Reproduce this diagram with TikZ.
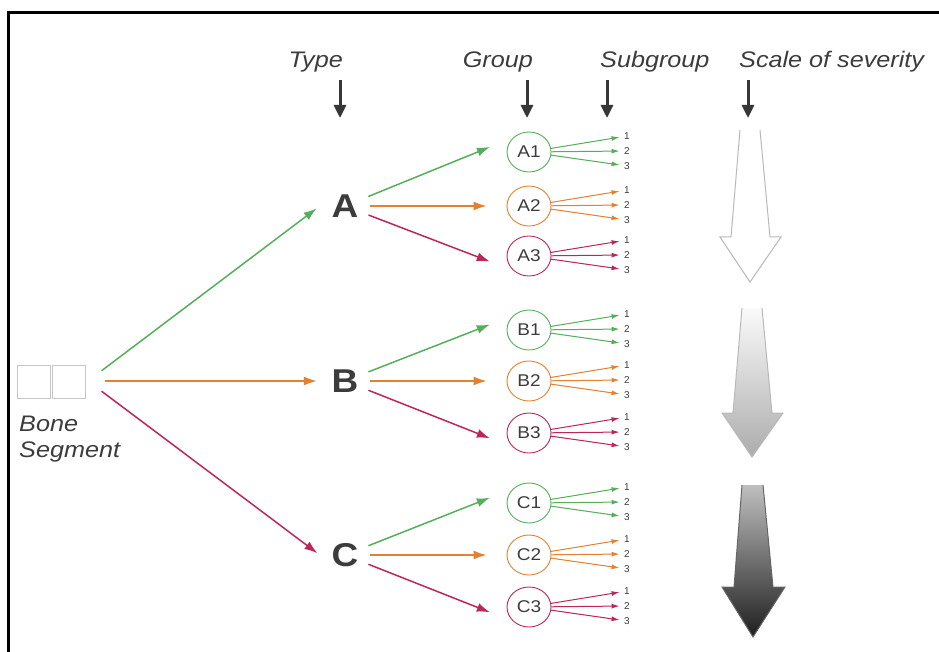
\documentclass[tikz,border=0pt]{standalone}
\usepackage{fontspec}
\setmainfont{Liberation Sans}
\newfontfamily\labfont[FakeStretch=1.12]{Liberation Sans}
\usetikzlibrary{arrows.meta,shapes.geometric}
\definecolor{gr}{RGB}{85,175,90}
\definecolor{og}{RGB}{228,128,48}
\definecolor{rd}{RGB}{188,38,88}
\definecolor{txtgray}{RGB}{60,60,60}
\definecolor{hdrgray}{RGB}{55,55,55}
\begin{document}
\begin{tikzpicture}[x=1pt,y=-1pt,
  hdrtxt/.style={font=\labfont\itshape\fontsize{22.5}{26}\selectfont, text=txtgray, inner sep=0pt},
  hdrarrow/.style={line width=3pt, draw=hdrgray, -{Triangle[width=12pt,length=13pt]}},
  typeltr/.style={circle, minimum size=50pt, inner sep=0pt, font=\labfont\bfseries\fontsize{33}{36}\selectfont, text=txtgray},
  grp/.style={ellipse, draw, minimum width=44pt, minimum height=40pt, inner sep=0pt, line width=0.9pt, font=\labfont\fontsize{17}{20}\selectfont, text=txtgray},
  digit/.style={font=\fontsize{10}{12}\selectfont, text=txtgray, inner sep=1.5pt},
  mainarrow/.style={line width=1.5pt, -{Latex[length=13pt,width=9pt]}},
  fanarrow/.style={line width=1pt, -{Latex[length=8pt,width=5pt]}},
  bonebox/.style={draw=gray!45, line width=0.8pt, minimum size=33pt, inner sep=0pt},
  bonetxt/.style={font=\labfont\itshape\fontsize{22.5}{26}\selectfont, text=txtgray, inner sep=0pt, anchor=west},
  sevarrow/.style={draw=gray!55, line width=1pt, line join=miter}
]
\useasboundingbox (0,0) rectangle (939,652);
% frame
\draw[line width=3pt] (8,652) -- (8,13) -- (939,13);

% headers
\node[hdrtxt, anchor=east] (typelbl) at (343,62) {Type};
\node[hdrtxt, anchor=east] (grouplbl) at (533,62) {Group};
\node[hdrtxt, anchor=west] (sublbl) at (600,62) {Subgroup};
\node[hdrtxt, anchor=west] (scalelbl) at (739,62) {Scale of severity};
\coordinate (typetop) at (340,80);   \coordinate (typebot) at (340,118);
\coordinate (grouptop) at (527,80);  \coordinate (groupbot) at (527,118);
\coordinate (subtop) at (607,80);    \coordinate (subbot) at (607,118);
\coordinate (scaletop) at (748,80);  \coordinate (scalebot) at (748,118);
\draw[hdrarrow] (typetop) -- (typebot);
\draw[hdrarrow] (grouptop) -- (groupbot);
\draw[hdrarrow] (subtop) -- (subbot);
\draw[hdrarrow] (scaletop) -- (scalebot);

% bone segment
\node[bonebox] (box1) at (33.5,381.5) {};
\node[bonebox] (box2) at (68.5,381.5) {};
\node[bonetxt] (bone) at (19,424) {Bone};
\node[bonetxt] (segment) at (19,452) {Segment};
\coordinate (src) at (88,381);

% types, groups, subgroups
\foreach \T/\ty/\ya/\yb/\yc in {A/206/152/206/256, B/381/330/381/433, C/555/503/555/607} {
  \node[typeltr] (\T) at (345,\ty) {\T};
  \node[grp, draw=gr] (\T1) at (529,\ya) {\T1};
  \node[grp, draw=og] (\T2) at (529,\yb) {\T2};
  \node[grp, draw=rd] (\T3) at (529,\yc) {\T3};
  \draw[mainarrow, gr, shorten >=25pt] (\T) -- (\T1.north west);
  \draw[mainarrow, og, shorten >=20pt] (\T) -- (\T2);
  \draw[mainarrow, rd, shorten >=25pt] (\T) -- (\T3.south west);
  \foreach \g/\gy/\c in {1/\ya/gr, 2/\yb/og, 3/\yc/rd} {
    \foreach \k/\dy in {1/-16, 2/-1, 3/14} {
      \node[digit] (\T\g-\k) at (627,{\gy+(\dy)}) {\k};
      \draw[fanarrow, \c, shorten >=3pt] (\T\g) -- (\T\g-\k);
    }
  }
}

% bone to types
\draw[mainarrow, gr, shorten <=17pt, shorten >=4pt] (src) -- (A.west);
\draw[mainarrow, og, shorten <=17pt, shorten >=3pt] (src) -- (B.west);
\draw[mainarrow, rd, shorten <=17pt, shorten >=3pt] (src) -- (C.west);

% scale of severity arrows
\path[fill=white] (740,130) -- (731,237) -- (720,237) -- (750,282) -- (781,237) -- (770,237) -- (760,130) -- cycle;
\draw[sevarrow] (740,130) -- (731,237) -- (720,237) -- (750,282) -- (781,237) -- (770,237) -- (760,130);
\shade[top color=gray!4, bottom color=gray!65] (742,308) -- (733,413) -- (722,413) -- (752,457) -- (783,413) -- (772,413) -- (762,308) -- cycle;
\draw[sevarrow] (742,308) -- (733,413) -- (722,413) -- (752,457) -- (783,413) -- (772,413) -- (762,308);
\shade[top color=gray!50, bottom color=black!88] (742,485) -- (734,587) -- (722,587) -- (753,637) -- (785,587) -- (773,587) -- (763,485) -- cycle;
\draw[sevarrow, draw=gray!80!black] (742,485) -- (734,587) -- (722,587) -- (753,637) -- (785,587) -- (773,587) -- (763,485);
\end{tikzpicture}
\end{document}
